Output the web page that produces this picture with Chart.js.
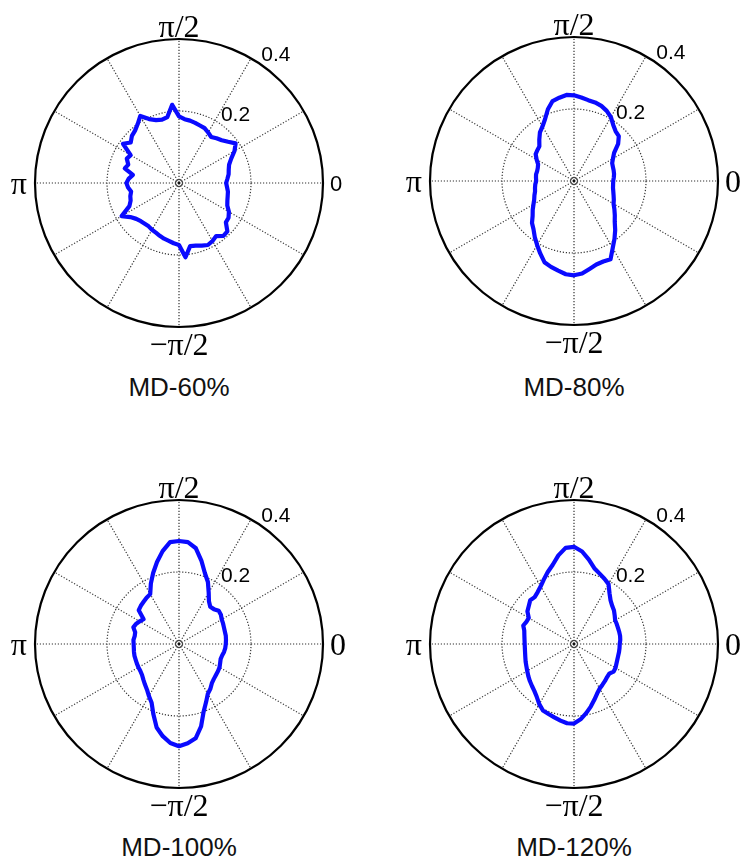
<!DOCTYPE html>
<html>
<head>
<meta charset="utf-8">
<title>MD polar plots</title>
<script src="https://cdn.jsdelivr.net/npm/chart.js@4.4.0/dist/chart.umd.min.js"></script>
<style>
  html, body { margin: 0; padding: 0; background: #fff; }
  body { width: 741px; height: 863px; overflow: hidden; position: relative; }
  canvas { position: absolute; }
  .title {
    position: absolute;
    width: 200px;
    text-align: center;
    font-family: "Liberation Sans", Arial, sans-serif;
    font-size: 26px;
    line-height: 30px;
    color: #111;
  }
</style>
</head>
<body>
<script>
// Polar distributions, one radius every 5 degrees (counter-clockwise from 0).
const anglesDeg = [
  0, 5, 10, 15, 20, 25, 30, 35, 40, 45, 50, 55,
  60, 65, 70, 75, 80, 85, 90, 95, 100, 105, 110, 115,
  120, 125, 130, 135, 140, 145, 150, 155, 160, 165, 170, 175,
  180, 185, 190, 195, 200, 205, 210, 215, 220, 225, 230, 235,
  240, 245, 250, 255, 260, 265, 270, 275, 280, 285, 290, 295,
  300, 305, 310, 315, 320, 325, 330, 335, 340, 345, 350, 355
];

const md60 = [
  0.131, 0.135, 0.140, 0.143, 0.148, 0.160, 0.178, 0.192, 0.178, 0.168, 0.162, 0.156,
  0.162, 0.168, 0.170, 0.173, 0.176, 0.178, 0.185, 0.218, 0.186, 0.182, 0.186, 0.196,
  0.215, 0.200, 0.190, 0.185, 0.175, 0.190, 0.155, 0.160, 0.150, 0.156, 0.130, 0.140,
  0.146, 0.142, 0.135, 0.140, 0.143, 0.152, 0.184, 0.165, 0.155, 0.150, 0.148, 0.147,
  0.150, 0.152, 0.156, 0.160, 0.163, 0.168, 0.172, 0.207, 0.178, 0.180, 0.185, 0.190,
  0.186, 0.180, 0.192, 0.190, 0.170, 0.168, 0.160, 0.148, 0.143, 0.140, 0.138, 0.134
];

const md80 = [
  0.109, 0.111, 0.113, 0.114, 0.115, 0.117, 0.125, 0.136, 0.160, 0.176, 0.180, 0.190,
  0.205, 0.215, 0.222, 0.226, 0.228, 0.233, 0.238, 0.240, 0.235, 0.230, 0.212, 0.190,
  0.175, 0.165, 0.150, 0.136, 0.133, 0.130, 0.120, 0.110, 0.107, 0.106, 0.107, 0.106,
  0.105, 0.108, 0.110, 0.112, 0.117, 0.122, 0.130, 0.140, 0.150, 0.165, 0.175, 0.190,
  0.205, 0.222, 0.240, 0.247, 0.253, 0.260, 0.262, 0.258, 0.248, 0.240, 0.238, 0.240,
  0.215, 0.196, 0.178, 0.160, 0.148, 0.137, 0.127, 0.122, 0.117, 0.113, 0.110, 0.109
];

const md100 = [
  0.130, 0.131, 0.132, 0.132, 0.133, 0.135, 0.137, 0.142, 0.144, 0.137, 0.135, 0.145,
  0.165, 0.190, 0.210, 0.240, 0.270, 0.284, 0.286, 0.284, 0.262, 0.236, 0.210, 0.185,
  0.160, 0.157, 0.153, 0.150, 0.146, 0.120, 0.126, 0.132, 0.135, 0.126, 0.125, 0.127,
  0.126, 0.126, 0.127, 0.128, 0.128, 0.129, 0.130, 0.131, 0.134, 0.140, 0.147, 0.155,
  0.167, 0.180, 0.208, 0.240, 0.260, 0.276, 0.284, 0.277, 0.266, 0.237, 0.200, 0.178,
  0.160, 0.152, 0.142, 0.137, 0.134, 0.132, 0.130, 0.126, 0.123, 0.124, 0.127, 0.129
];

const md120 = [
  0.127, 0.129, 0.130, 0.130, 0.130, 0.131, 0.132, 0.138, 0.145, 0.150, 0.158, 0.172,
  0.192, 0.200, 0.208, 0.218, 0.238, 0.258, 0.270, 0.268, 0.250, 0.228, 0.213, 0.198,
  0.185, 0.176, 0.170, 0.172, 0.164, 0.158, 0.145, 0.146, 0.150, 0.143, 0.140, 0.138,
  0.137, 0.137, 0.138, 0.140, 0.143, 0.146, 0.150, 0.155, 0.160, 0.165, 0.171, 0.180,
  0.193, 0.204, 0.207, 0.211, 0.216, 0.221, 0.221, 0.210, 0.195, 0.180, 0.165, 0.152,
  0.143, 0.138, 0.134, 0.130, 0.128, 0.134, 0.133, 0.130, 0.128, 0.127, 0.127, 0.127
];

const titles = ["MD-60%", "MD-80%", "MD-100%", "MD-120%"];
const angleTickLabels = ["0", "\u03c0/2", "\u03c0", "\u2212\u03c0/2"];
const radiusTicks = [0.2, 0.4];

// Canvas is 356x360, the polar centre sits at (178, 180) inside it.
const CANVAS_W = 356;
const CANVAS_H = 360;
const DOT_COLOR = "#333";

// Dibuja las etiquetas de ángulo y radio al estilo de MATLAB polar().
const polarLabels = {
  id: "polarLabels",
  afterDraw(chart, args, opts) {
    const scale = chart.scales.r;
    const ctx = chart.ctx;
    const xc = scale.xCenter;
    const yc = scale.yCenter;
    const R = scale.drawingArea;

    ctx.save();
    // small centre mark
    ctx.strokeStyle = "#333";
    ctx.lineWidth = 1;
    ctx.beginPath();
    ctx.arc(xc, yc, 3.5, 0, Math.PI * 2);
    ctx.stroke();
    ctx.fillStyle = "#111";
    ctx.beginPath();
    ctx.arc(xc, yc, 1.4, 0, Math.PI * 2);
    ctx.fill();

    ctx.fillStyle = "#000";
    ctx.textBaseline = "alphabetic";
    ctx.font = '32px "Liberation Serif", "Times New Roman", serif';
    ctx.textAlign = "center";
    ctx.fillText(angleTickLabels[1], xc, yc - R - 2);
    ctx.fillText(angleTickLabels[3], xc, yc + R + 28);
    ctx.textAlign = "right";
    ctx.fillText(angleTickLabels[2], xc - R - 8, yc + 11);

    ctx.textAlign = "left";
    ctx.font = opts.zeroFont;
    ctx.fillText(angleTickLabels[0], xc + R + 7, yc + opts.zeroShift);

    ctx.font = '21px "Liberation Sans", Arial, sans-serif';
    const a = (56 * Math.PI) / 180;
    radiusTicks.forEach((v) => {
      const d = scale.getDistanceFromCenterForValue(v) + 3;
      ctx.fillText(v.toFixed(1), xc + d * Math.cos(a), yc - d * Math.sin(a));
    });
    ctx.restore();
  }
};

function buildChart(canvas, radii, zeroFont, zeroShift) {
  // radar goes clockwise from startAngle, so label i sits at -5*i degrees
  const n = anglesDeg.length;
  const labels = anglesDeg.map((_, i) => anglesDeg[(n - i) % n]);
  const byAngle = new Map(anglesDeg.map((deg, i) => [deg, radii[i]]));
  const data = labels.map((deg) => byAngle.get(deg));

  return new Chart(canvas.getContext("2d"), {
    type: "radar",
    data: {
      labels,
      datasets: [
        {
          data,
          borderColor: "#0a0aff",
          backgroundColor: "rgba(0,0,0,0)",
          borderWidth: 4.2,
          borderJoinStyle: "round",
          pointRadius: 0,
          pointHoverRadius: 0,
          fill: false,
          tension: 0
        }
      ]
    },
    options: {
      responsive: false,
      animation: false,
      events: [],
      layout: { padding: { left: 34, right: 34, top: 36, bottom: 36 } },
      plugins: {
        legend: { display: false },
        tooltip: { enabled: false },
        polarLabels: { zeroFont, zeroShift }
      },
      scales: {
        r: {
          min: 0,
          max: 0.4,
          startAngle: 90,
          ticks: { display: false, stepSize: 0.2 },
          pointLabels: { display: false },
          grid: {
            circular: true,
            color: (c) => (c.tick && c.tick.value > 0.3 ? "#000" : DOT_COLOR),
            lineWidth: (c) => (c.tick && c.tick.value > 0.3 ? 2.2 : 1.2)
          },
          border: {
            dash: (c) => (c.tick && c.tick.value > 0.3 ? [] : [1.2, 1.8])
          },
          angleLines: {
            color: DOT_COLOR,
            lineWidth: (c) => (c.index % 6 === 0 ? 1.2 : 0),
            borderDash: [1.2, 1.8]
          }
        }
      }
    },
    plugins: [polarLabels]
  });
}

const panels = [
  { radii: md60, title: titles[0], cx: 179, cy: 183, titleTop: 372,
    zeroFont: '22px "Liberation Sans", Arial, sans-serif', zeroShift: 8 },
  { radii: md80, title: titles[1], cx: 574, cy: 181, titleTop: 372,
    zeroFont: '32px "Liberation Serif", serif', zeroShift: 11 },
  { radii: md100, title: titles[2], cx: 179, cy: 644, titleTop: 832,
    zeroFont: '32px "Liberation Serif", serif', zeroShift: 11 },
  { radii: md120, title: titles[3], cx: 574, cy: 644, titleTop: 832,
    zeroFont: '32px "Liberation Serif", serif', zeroShift: 11 }
];

panels.forEach((p) => {
  const canvas = document.createElement("canvas");
  canvas.width = CANVAS_W;
  canvas.height = CANVAS_H;
  canvas.style.left = p.cx - 178 + "px";
  canvas.style.top = p.cy - 180 + "px";
  document.body.appendChild(canvas);

  const title = document.createElement("div");
  title.className = "title";
  title.textContent = p.title;
  title.style.left = p.cx - 100 + "px";
  title.style.top = p.titleTop + "px";
  document.body.appendChild(title);

  buildChart(canvas, p.radii, p.zeroFont, p.zeroShift);
});
</script>
</body>
</html>
